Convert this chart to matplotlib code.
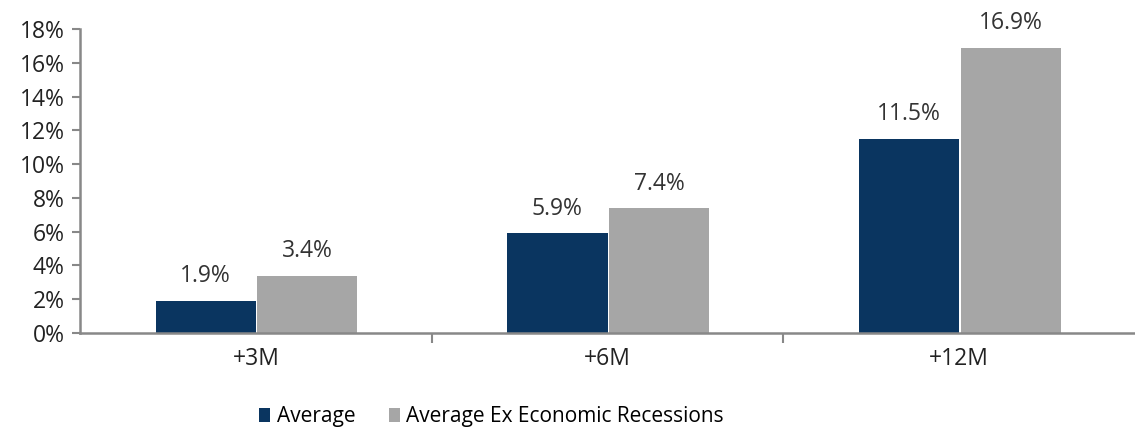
import matplotlib.pyplot as plt
import numpy as np

categories = ["+3M", "+6M", "+12M"]
average = [1.9, 5.9, 11.5]
average_ex = [3.4, 7.4, 16.9]
series_names = ["Average", "Average Ex Economic Recessions"]

plt.rcParams['font.family'] = ['Open Sans', 'DejaVu Sans']

fig = plt.figure(figsize=(11.35, 4.33), dpi=100)
ax = fig.add_axes([0.0705, 0.231, 0.9295, 0.702])

x = np.arange(len(categories))
w = 0.285
b1 = ax.bar(x - w / 2, average, w, color="#0a3560", label=series_names[0])
b2 = ax.bar(x + w / 2 + 0.004, average_ex, w, color="#a6a6a6", label=series_names[1])

for bars, vals in [(b1, average), (b2, average_ex)]:
    for r, v in zip(bars, vals):
        ax.annotate("{:.1f}%".format(v), (r.get_x() + r.get_width() / 2, v),
                    xytext=(0, 9), textcoords="offset points",
                    ha="center", va="bottom", fontsize=16.5, color="#333333")

ax.set_xlim(-0.5, 2.5)
ax.set_ylim(0, 18)
ax.set_yticks(range(0, 19, 2))
ax.set_yticklabels(["{}%".format(t) for t in range(0, 19, 2)], fontsize=16.5, color="#222222")

ax.set_xticks([0.5, 1.5])
ax.set_xticklabels(["", ""])
ax.set_xticks(x, minor=True)
ax.set_xticklabels(categories, minor=True, fontsize=16.5, color="#222222")
ax.tick_params(axis="x", which="major", length=7, color="#888888", width=1.5)
ax.tick_params(axis="x", which="minor", length=0, pad=10)
ax.tick_params(axis="y", length=6, color="#888888", width=1.5, pad=5)

for s in ["top", "right"]:
    ax.spines[s].set_visible(False)
for s in ["left", "bottom"]:
    ax.spines[s].set_color("#888888")
    ax.spines[s].set_linewidth(1.8)

fig.legend(handles=[b1, b2], labels=series_names, loc="lower center",
           bbox_to_anchor=(0.433, -0.03), ncol=2, frameon=False, fontsize=15,
           handlelength=0.55, handleheight=0.6, handletextpad=0.3, columnspacing=1.6)

fig.savefig("out.png", dpi=100)
